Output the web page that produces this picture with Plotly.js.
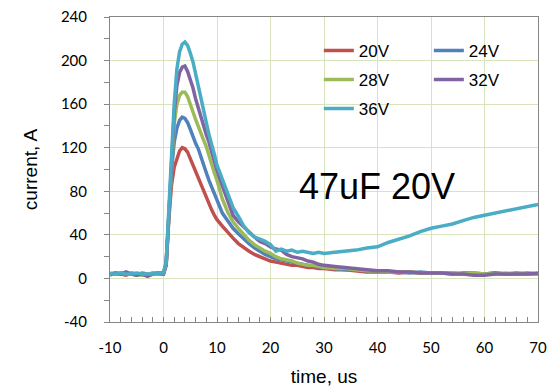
<!DOCTYPE html>
<html>
<head>
<meta charset="utf-8">
<script src="https://cdn.plot.ly/plotly-3.0.1.min.js"></script>
<style>html,body{margin:0;padding:0;background:#fff;}#chart{width:547px;height:389px;}</style>
</head>
<body>
<div id="chart"></div>
<script>
// time, us
var time = [-10,-9,-8,-7,-6,-5,-4,-3,-2,-1,0,
  0.5,1,1.5,2,2.5,3,3.5,4,4.5,5,5.5,6,6.5,7,7.5,8,8.5,9,9.5,10,
  11,12,13,14,15,16,17,18,19,20,21,22,23,24,25,26,27,28,29,30,
  32,34,36,38,40,42,44,46,48,50,52,54,56,58,60,62,64,66,68,70];

var seriesNames = ['20V','24V','28V','32V','36V'];

var i20 = [4,5,4,3,5,4,4,3,5,4,4,
  12,55,86,102,111,117,120,119,116,110,104,97,91,85,80,74,69,63,58,54,
  48,42,37,32,28,25,22,20,18,16,15,14,13,12,12,11,10,10,9,9,
  8,8,7,6,6,6,5,6,5,5,5,4,5,5,4,5,4,5,4,4];

var i24 = [4,4,5,4,4,3,5,4,4,5,4,
  13,58,100,125,138,145,148,147,143,137,130,124,119,111,104,97,90,84,78,71,
  60,53,46,41,36,32,28,25,22,20,18,17,16,15,14,13,12,11,11,10,
  9,8,8,7,7,6,6,5,6,5,5,5,4,4,4,5,4,4,5,4];

var i28 = [5,4,4,5,4,4,3,4,5,4,5,
  14,58,108,142,160,168,171,171,167,161,153,146,139,133,127,121,112,104,97,90,
  73,61,52,46,40,35,31,28,25,23,20,18,17,16,14,13,12,12,11,10,
  9,9,8,7,7,6,6,6,5,5,5,5,4,5,4,4,5,4,4,4];

var i32 = [3,5,4,6,4,3,4,2,4,5,5,
  14,58,110,152,177,189,194,195,190,183,175,165,156,148,140,132,125,116,107,99,
  85,72,58,52,47,42,38,34,32,29,27,26,22,20,19,18,16,15,13,12,
  11,10,9,8,7,7,6,6,5,5,5,4,4,3,3,4,4,4,4,5];

var i36 = [4,4,5,4,4,5,4,4,4,5,5,
  15,58,112,160,192,208,215,217,214,207,199,188,176,163,153,143,132,124,114,104,
  91,78,65,57,48,42,38,36,34,31,25,27,25,26,24,25,24,23,24,23,
  24,25,26,28,29,33,36,39,43,46,48,50,53,56,58,60,62,64,66,68];

var xTickVals = [-10,0,10,20,30,40,50,60,70];
var yTickVals = [-40,0,40,80,120,160,200,240];

var colors = ['#c0504d','#4f81bd','#9bbb59','#8064a2','#4bacc6'];
var legendOf = ['legend','legend2','legend','legend2','legend'];
var values = [i20,i24,i28,i32,i36];

var traces = values.map(function(v,k){
  return {
    x: time, y: v, name: seriesNames[k], type: 'scatter', mode: 'lines',
    line: {color: colors[k], width: 3.5},
    legend: legendOf[k], legendgroup: seriesNames[k]
  };
});

var gridColor = '#d7e4bd';
var axisColor = '#868686';
var tickFont = {family: 'Lato, sans-serif', size: 15, color: '#000'};

var layout = {
  width: 547, height: 389,
  margin: {l: 110, r: 9, t: 17, b: 67, pad: 0},
  paper_bgcolor: '#fff', plot_bgcolor: '#fff',
  showlegend: true,
  xaxis: {
    range: [-10, 70], tickvals: xTickVals, ticktext: xTickVals.map(String),
    showgrid: true, gridcolor: gridColor, gridwidth: 1, zeroline: false,
    showline: true, linecolor: axisColor, linewidth: 1, mirror: true,
    ticks: 'inside', ticklen: 5, tickcolor: axisColor,
    minor: {dtick: 2, ticks: 'inside', ticklen: 5, tickcolor: axisColor, showgrid: false},
    tickfont: tickFont, ticklabelstandoff: 12,
    title: {text: 'time, us', font: {family: 'Arial, Liberation Sans, sans-serif', size: 19, color: '#000'}, standoff: 14}
  },
  yaxis: {
    range: [-40, 240], tickvals: yTickVals, ticktext: yTickVals.map(String),
    showgrid: true, gridcolor: gridColor, gridwidth: 1, zeroline: false,
    showline: true, linecolor: axisColor, linewidth: 1, mirror: true,
    ticks: 'outside', ticklen: 5, tickcolor: axisColor,
    minor: {dtick: 20, ticks: 'outside', ticklen: 5, tickcolor: axisColor, showgrid: false},
    tickfont: tickFont, ticklabelstandoff: 14,
    title: {text: 'current, A', font: {family: 'Arial, Liberation Sans, sans-serif', size: 19, color: '#000'}, standoff: 18}
  },
  legend: {
    x: 0.488, xanchor: 'left', y: 0.948, yanchor: 'top',
    bgcolor: 'rgba(0,0,0,0)', borderwidth: 0, tracegroupgap: 4,
    font: {family: 'Arial, Liberation Sans, sans-serif', size: 17, color: '#000'}
  },
  legend2: {
    x: 0.745, xanchor: 'left', y: 0.948, yanchor: 'top',
    bgcolor: 'rgba(0,0,0,0)', borderwidth: 0, tracegroupgap: 4,
    font: {family: 'Arial, Liberation Sans, sans-serif', size: 17, color: '#000'}
  },
  shapes: [{
    type: 'rect', xref: 'paper', yref: 'paper',
    x0: 0.439, x1: 0.953, y0: 0.656, y1: 0.918,
    fillcolor: '#fff', line: {width: 0}, layer: 'between'
  }],
  annotations: [{
    text: '47uF 20V', x: 25.0, y: 84.8, xref: 'x', yref: 'y',
    xanchor: 'left', yanchor: 'middle', showarrow: false,
    font: {family: 'Arial, Liberation Sans, sans-serif', size: 36, color: '#000'}
  }]
};

Plotly.newPlot('chart', traces, layout, {displayModeBar: false, staticPlot: true});
</script>
</body>
</html>
